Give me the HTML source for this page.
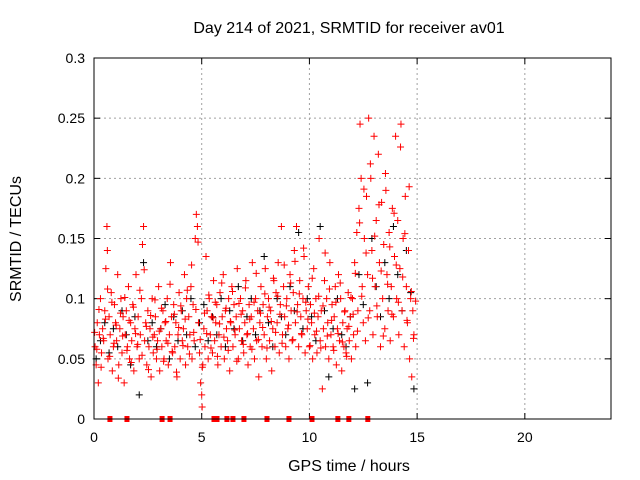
<!DOCTYPE html>
<html><head><meta charset="utf-8">
<style>
html,body{margin:0;padding:0;background:#fff;}
svg{display:block;font-family:"Liberation Sans",sans-serif;}
</style></head>
<body>
<svg id="chart" width="640" height="480" viewBox="0 0 640 480">
  <rect width="640" height="480" fill="#fff"/>
  <text x="349" y="33" font-size="16" text-anchor="middle" fill="#000">Day 214 of 2021, SRMTID for receiver av01</text>
  <g id="grid"></g>
  <g id="ticks"></g>
  <g id="marks"></g>
  <rect x="94" y="58" width="517" height="361" fill="none" stroke="#000" stroke-width="1"/>
  <text x="349" y="471" font-size="16" text-anchor="middle">GPS time / hours</text>
  <text x="15" y="239" font-size="16" text-anchor="middle" transform="rotate(-90 15 239) translate(0 6)">SRMTID / TECUs</text>
</svg>
<script>
const xTicks=[0,5,10,15,20];
const yTicks=[0,0.05,0.1,0.15,0.2,0.25,0.3];
const yTickLabels=["0","0.05","0.1","0.15","0.2","0.25","0.3"];
const redTimes=[0.05,0.1,0.15,0.2,0.25,0.3,0.35,0.4,0.45,0.5,0.55,0.6,0.62,0.65,0.7,0.75,0.8,0.85,0.9,0.95,1.0,1.05,1.1,1.15,1.2,1.25,1.3,1.35,1.4,1.45,1.5,1.55,1.6,1.65,1.7,1.75,1.8,1.85,1.9,1.95,2.0,2.05,2.1,2.15,2.2,2.25,2.3,2.35,2.4,2.45,2.5,2.55,2.6,2.65,2.7,2.75,2.8,2.85,2.9,2.95,3.0,3.05,3.1,3.15,3.2,3.25,3.3,3.35,3.4,3.45,3.5,3.55,3.6,3.65,3.7,3.75,3.8,3.85,3.9,3.95,4.0,4.05,4.1,4.15,4.2,4.25,4.3,4.35,4.4,4.45,4.5,4.55,4.6,4.65,4.7,4.75,4.8,4.85,4.9,4.95,5.0,5.02,5.05,5.1,5.15,5.2,5.25,5.3,5.35,5.4,5.45,5.5,5.55,5.6,5.65,5.7,5.75,5.8,5.85,5.9,5.95,6.0,6.05,6.1,6.15,6.2,6.25,6.3,6.35,6.4,6.45,6.5,6.55,6.6,6.65,6.7,6.75,6.8,6.85,6.9,6.95,7.0,7.05,7.1,7.15,7.2,7.25,7.3,7.35,7.4,7.45,7.5,7.55,7.6,7.65,7.7,7.75,7.8,7.85,7.9,7.95,8.0,8.05,8.1,8.15,8.2,8.25,8.3,8.35,8.4,8.45,8.5,8.55,8.6,8.65,8.7,8.75,8.8,8.85,8.9,8.95,9.0,9.05,9.1,9.15,9.2,9.25,9.3,9.35,9.4,9.45,9.5,9.55,9.6,9.65,9.7,9.75,9.8,9.85,9.9,9.95,10.0,10.05,10.1,10.15,10.2,10.25,10.3,10.35,10.4,10.45,10.5,10.55,10.6,10.65,10.7,10.75,10.8,10.85,10.9,10.95,11.0,11.05,11.1,11.15,11.2,11.25,11.3,11.35,11.4,11.45,11.5,11.55,11.6,11.65,11.7,11.75,11.8,11.85,11.9,11.95,12.0,12.05,12.1,12.15,12.2,12.25,12.3,12.35,12.4,12.45,12.5,12.55,12.6,12.65,12.7,12.75,12.8,12.85,12.9,12.95,13.0,13.05,13.1,13.15,13.2,13.25,13.3,13.35,13.4,13.45,13.5,13.55,13.6,13.65,13.7,13.75,13.8,13.85,13.9,13.95,14.0,14.05,14.1,14.15,14.2,14.25,14.3,14.35,14.4,14.45,14.5,14.55,14.6,14.65,14.7,14.75,14.8,14.85];
const redValues=[.06,.045,.08,.03,.07,.1,.055,.075,.065,.09,.125,.16,.14,.05,.085,.07,.105,.04,.06,.095,.08,.065,.12,.045,.075,.1,.055,.085,.03,.07,.09,.06,.11,.05,.08,.065,.095,.04,.075,.12,.06,.085,.05,.07,.1,.145,.16,.065,.08,.045,.09,.06,.075,.035,.1,.055,.07,.085,.05,.065,.11,.04,.075,.06,.09,.05,.08,.065,.1,.045,.07,.13,.085,.055,.095,.06,.08,.035,.07,.105,.05,.09,.065,.075,.12,.045,.1,.06,.085,.07,.11,.05,.095,.065,.15,.17,.16,.08,.055,.03,.02,.01,.045,.075,.06,.135,.09,.05,.1,.07,.085,.055,.115,.065,.08,.095,.045,.07,.105,.06,.085,.12,.05,.09,.075,.065,.1,.04,.08,.11,.06,.095,.07,.085,.125,.05,.075,.1,.065,.09,.055,.08,.115,.07,.045,.095,.06,.085,.13,.075,.05,.1,.065,.09,.035,.08,.11,.06,.095,.07,.125,.05,.085,.1,.065,.09,.04,.075,.115,.06,.105,.08,.13,.055,.095,.16,.07,.11,.085,.06,.1,.075,.05,.12,.09,.065,.105,.14,.08,.16,.095,.06,.115,.085,.07,.1,.135,.055,.09,.075,.11,.06,.095,.08,.05,.125,.07,.1,.055,.085,.15,.065,.09,.025,.075,.115,.06,.1,.08,.05,.13,.07,.095,.06,.085,.11,.045,.075,.12,.065,.1,.04,.08,.06,.09,.055,.075,.105,.065,.085,.05,.1,.07,.13,.06,.155,.09,.175,.245,.2,.11,.08,.15,.065,.185,.12,.25,.09,.2,.14,.07,.235,.11,.165,.085,.22,.13,.06,.18,.1,.145,.075,.19,.12,.09,.155,.065,.11,.175,.085,.135,.235,.1,.165,.07,.125,.245,.09,.15,.06,.185,.11,.08,.14,.05,.1,.035,.09,.07];
const red2Times=[0.03,0.13,0.23,0.33,0.43,0.53,0.63,0.73,0.83,0.93,1.03,1.13,1.23,1.33,1.43,1.53,1.63,1.73,1.83,1.93,2.03,2.13,2.23,2.33,2.43,2.53,2.63,2.73,2.83,2.93,3.03,3.13,3.23,3.33,3.43,3.53,3.63,3.73,3.83,3.93,4.03,4.13,4.23,4.33,4.43,4.53,4.63,4.73,4.83,4.93,5.03,5.13,5.23,5.33,5.43,5.53,5.63,5.73,5.83,5.93,6.03,6.13,6.23,6.33,6.43,6.53,6.63,6.73,6.83,6.93,7.03,7.13,7.23,7.33,7.43,7.53,7.63,7.73,7.83,7.93,8.03,8.13,8.23,8.33,8.43,8.53,8.63,8.73,8.83,8.93,9.03,9.13,9.23,9.33,9.43,9.53,9.63,9.73,9.83,9.93,10.03,10.13,10.23,10.33,10.43,10.53,10.63,10.73,10.83,10.93,11.03,11.13,11.23,11.33,11.43,11.53,11.63,11.73,11.83,11.93,12.03,12.13,12.23,12.33,12.43,12.53,12.63,12.73,12.83,12.93,13.03,13.13,13.23,13.33,13.43,13.53,13.63,13.73,13.83,13.93,14.03,14.13,14.23,14.33,14.43,14.53,14.63,14.73,14.83,14.93];
const red2Values=[.072,.058,.091,.043,.067,.083,.108,.052,.097,.063,.078,.034,.088,.069,.101,.057,.082,.047,.093,.071,.062,.107,.053,.124,.077,.041,.086,.068,.099,.058,.073,.092,.048,.081,.063,.112,.056,.087,.039,.076,.094,.061,.083,.107,.054,.128,.072,.091,.147,.066,.043,.088,.071,.103,.059,.084,.097,.052,.079,.113,.068,.092,.057,.081,.106,.074,.048,.096,.087,.062,.109,.071,.083,.058,.097,.121,.066,.088,.076,.104,.059,.093,.081,.117,.072,.102,.087,.063,.128,.094,.078,.113,.066,.131,.089,.104,.071,.142,.097,.083,.061,.117,.088,.073,.102,.059,.094,.138,.069,.108,.082,.057,.097,.071,.113,.064,.089,.052,.077,.101,.087,.121,.073,.163,.102,.191,.138,.084,.212,.117,.152,.094,.178,.123,.069,.204,.112,.143,.087,.171,.128,.097,.226,.118,.154,.082,.193,.106,.067,.098];
const blackTimes=[0.1,0.3,0.5,0.7,0.9,1.1,1.3,1.5,1.7,1.9,2.1,2.3,2.5,2.7,2.9,3.1,3.3,3.5,3.7,3.9,4.1,4.3,4.5,4.7,4.9,5.1,5.3,5.5,5.7,5.9,6.1,6.3,6.5,6.7,6.9,7.1,7.3,7.5,7.7,7.9,8.1,8.3,8.5,8.7,8.9,9.1,9.3,9.5,9.7,9.9,10.1,10.3,10.5,10.7,10.9,11.1,11.3,11.5,11.7,11.9,12.1,12.3,12.5,12.7,12.9,13.1,13.3,13.5,13.7,13.9,14.1,14.3,14.5,14.7,14.85];
const blackValues=[.05,.065,.08,.055,.075,.06,.09,.07,.045,.085,.02,.13,.065,.08,.06,.075,.095,.05,.085,.065,.09,.07,.1,.06,.08,.095,.065,.085,.07,.1,.06,.09,.075,.11,.065,.085,.1,.07,.09,.135,.08,.06,.1,.085,.07,.11,.09,.155,.075,.1,.085,.065,.16,.09,.035,.075,.1,.07,.06,.085,.025,.12,.095,.03,.15,.11,.085,.13,.1,.16,.12,.09,.14,.105,.025];
const zeroTimes=[0.74,1.53,3.16,3.53,5.57,5.71,6.17,6.45,6.96,8.03,9.05,10.12,11.32,11.83,12.71];

const X0=94,X1=611,Y0=419,Y1=58;
const xs=t=>X0+(t/24)*(X1-X0);
const ys=v=>Y0-(v/0.3)*(Y0-Y1);
const NS="http://www.w3.org/2000/svg";
function mk(tag,attrs,parent){const e=document.createElementNS(NS,tag);for(const k in attrs)e.setAttribute(k,attrs[k]);parent.appendChild(e);return e;}
const grid=document.getElementById('grid'),ticks=document.getElementById('ticks'),marks=document.getElementById('marks');
xTicks.forEach(t=>{
  const x=xs(t);
  if(t>0){const g=mk('line',{x1:x,x2:x,y1:Y1,y2:Y0,stroke:'#a0a0a0','stroke-dasharray':'2,3'},grid);
  
  }
  mk('line',{x1:x,x2:x,y1:Y0,y2:Y0-6,stroke:'#000'},ticks);
  mk('line',{x1:x,x2:x,y1:Y1,y2:Y1+6,stroke:'#000'},ticks);
  const l=mk('text',{x:x,y:Y0+23,'font-size':14,'text-anchor':'middle'},ticks);l.textContent=t;
  
  
});
yTicks.forEach((v,i)=>{
  const y=ys(v);
  if(i>0&&i<yTicks.length-1){const g=mk('line',{x1:X0,x2:X1,y1:y,y2:y,stroke:'#a0a0a0','stroke-dasharray':'2,3'},grid);
  
  }
  mk('line',{x1:X0,x2:X0+6,y1:y,y2:y,stroke:'#000'},ticks);
  mk('line',{x1:X1,x2:X1-6,y1:y,y2:y,stroke:'#000'},ticks);
  const l=mk('text',{x:X0-9,y:y+5,'font-size':14,'text-anchor':'end'},ticks);l.textContent=yTickLabels[i];
  
  
});
function plus(t,v,color,name){
  const x=xs(t),y=ys(v);
  const p=mk('path',{d:`M${x-3.5},${y}H${x+3.5}M${x},${y-3.5}V${y+3.5}`,stroke:color,'stroke-width':1,fill:'none'},marks);
  
  
}
blackTimes.forEach((t,i)=>plus(t,blackValues[i],'#000','black-point'));
redTimes.forEach((t,i)=>plus(t,redValues[i],'#f00','red-point'));
red2Times.forEach((t,i)=>plus(t,red2Values[i],'#f00','red-point'));
zeroTimes.forEach(t=>{
  const r=mk('rect',{x:xs(t)-2.5,y:Y0-3,width:5,height:6,fill:'#f00'},marks);
  
  
});
</script>
</body></html>
